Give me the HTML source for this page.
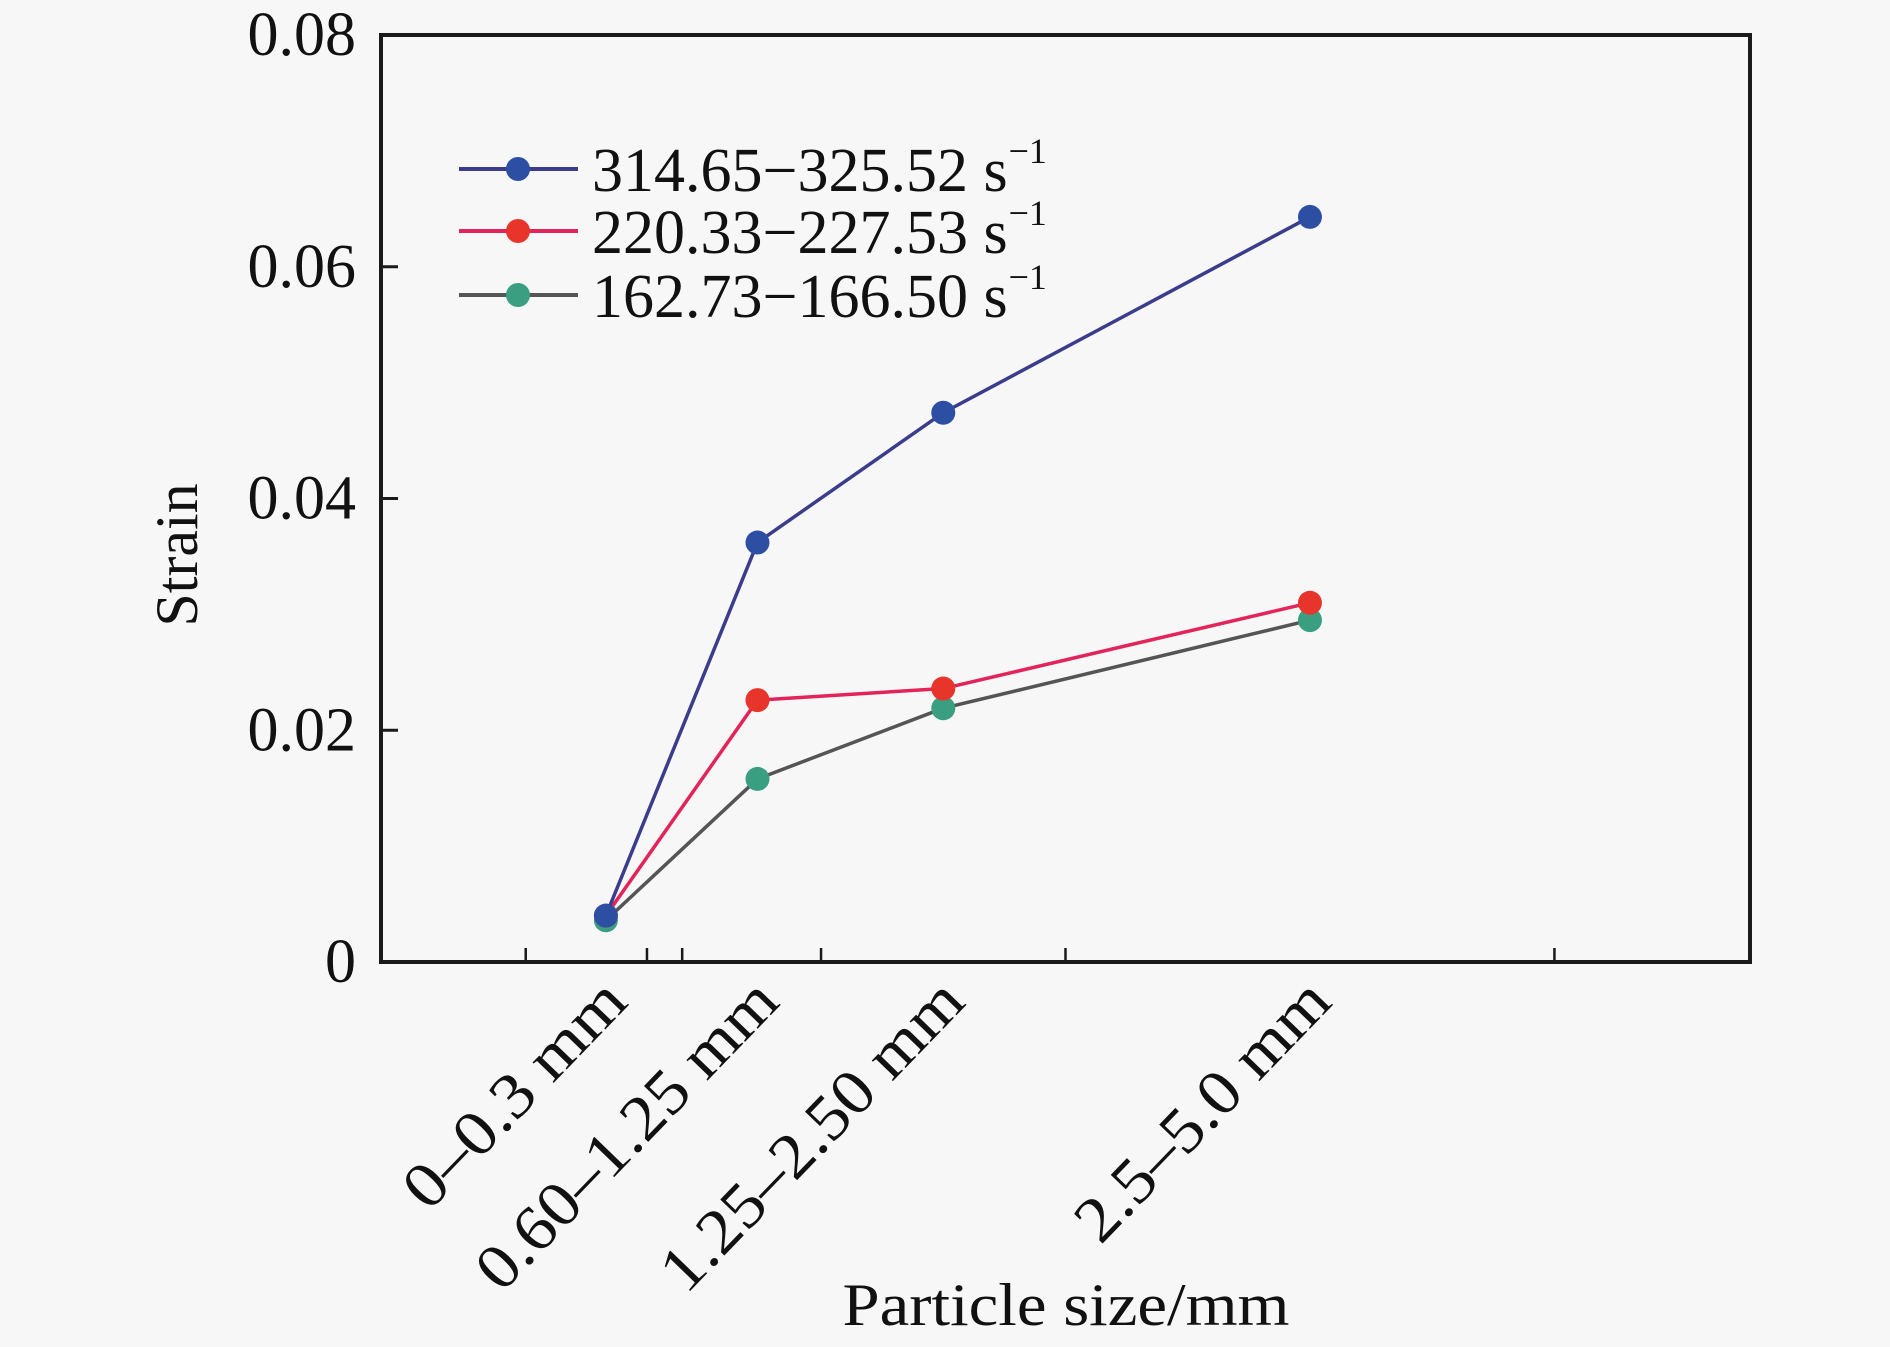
<!DOCTYPE html>
<html><head><meta charset="utf-8"><style>
html,body{margin:0;padding:0;background:#f7f7f7;}
svg{display:block;}
text{font-family:"Liberation Serif",serif;fill:#111;}
</style></head><body>
<svg id="chart" width="1890" height="1347" viewBox="0 0 1890 1347" xmlns="http://www.w3.org/2000/svg">
<rect width="1890" height="1347" fill="#f7f7f7"/>
<g id="plot"></g>
</svg>
<script>
const categories = ["0\u20130.3 mm", "0.60\u20131.25 mm", "1.25\u20132.50 mm", "2.5\u20135.0 mm"];
const categoryX = [0.15, 0.925, 1.875, 3.75];
const xTickValues = [-0.26, 0.36, 0.54, 1.25, 2.5, 5.0];
const yTickValues = [0, 0.02, 0.04, 0.06, 0.08];
const yTickLabels = ["0", "0.02", "0.04", "0.06", "0.08"];
const seriesNames = ["314.65\u2212325.52 s", "220.33\u2212227.53 s", "162.73\u2212166.50 s"];
const seriesHigh = [0.0040, 0.0362, 0.0474, 0.0643];
const seriesMid = [0.0040, 0.0226, 0.0236, 0.0310];
const seriesLow = [0.0036, 0.0158, 0.0219, 0.0295];

const NS = "http://www.w3.org/2000/svg";
const L = 381, R = 1750, T = 35, B = 962;
const xMin = -1, xMax = 6, yMin = 0, yMax = 0.08;
function xs(v){ return L + (v - xMin) / (xMax - xMin) * (R - L); }
function ys(v){ return B - (v - yMin) / (yMax - yMin) * (B - T); }
const g = document.getElementById('plot');
function el(tag, attrs, parent){
  const e = document.createElementNS(NS, tag);
  for (const k in attrs) e.setAttribute(k, attrs[k]);
  (parent || g).appendChild(e);
  return e;
}

const frame = el('rect', {x:L, y:T, width:R-L, height:B-T, fill:'none', stroke:'#1a1a1a', 'stroke-width':4});



yTickValues.forEach((v, i) => {
  const y = ys(v);
  if (i > 0 && i < yTickValues.length - 1) {
    const t = el('line', {x1:L, x2:L+17, y1:y, y2:y, stroke:'#1a1a1a', 'stroke-width':3});
    
    
  }
  const lab = el('text', {x:356, y:y+20, 'font-size':62, 'text-anchor':'end'});
  lab.textContent = yTickLabels[i];
  
  
});

xTickValues.forEach(v => {
  const x = xs(v);
  const t = el('line', {x1:x, x2:x, y1:B, y2:B-14, stroke:'#1a1a1a', 'stroke-width':2.5});
  
  
});

const labelLens = [290, 403, 405, 336];
categories.forEach((c, i) => {
  const ex = xs(categoryX[i]) + 24, ey = 1004;
  const t = el('text', {x:ex, y:ey, 'font-size':64, 'text-anchor':'end', transform:`rotate(-46 ${ex} ${ey})`, textLength:labelLens[i], lengthAdjust:'spacingAndGlyphs'});
  t.textContent = c;
  
  
});

const xt = el('text', {x:1066, y:1325, 'font-size':60, 'text-anchor':'middle', textLength:447, lengthAdjust:'spacingAndGlyphs'});
xt.textContent = 'Particle size/mm';


const yt = el('text', {x:0, y:0, 'font-size':60, 'text-anchor':'middle', transform:'translate(197 555) rotate(-90)'});
yt.textContent = 'Strain';



const seriesData = [seriesHigh, seriesMid, seriesLow];
const lineColors = ['#3b3d8c', '#e2245a', '#555555'];
const markColors = ['#2d4fa3', '#e8352b', '#3a9e80'];
const seriesKeys = ['high', 'mid', 'low'];
[2,1,0].forEach(s => {
  const vals = seriesData[s];
  const pts = vals.map((v, i) => xs(categoryX[i]) + ',' + ys(v)).join(' ');
  const pl = el('polyline', {points:pts, fill:'none', stroke:lineColors[s], 'stroke-width':3.5});
  
  
  vals.forEach((v, i) => {
    const c = el('circle', {cx:xs(categoryX[i]), cy:ys(v), r:12, fill:markColors[s]});
    
    
  });
});

const legendY = [169, 231, 295];
seriesNames.forEach((n, s) => {
  const y = legendY[s];
  const ln = el('line', {x1:459, x2:578, y1:y, y2:y, stroke:lineColors[s], 'stroke-width':4});
  
  
  const mk = el('circle', {cx:518, cy:y, r:12, fill:markColors[s]});
  
  
  const t = el('text', {x:592, y:y+22, 'font-size':62});
  t.textContent = n;
  const sup = el('tspan', {'font-size':36, dy:-28, dx:1}, t);
  sup.textContent = '\u22121';
  
  
});
</script>
</body></html>
